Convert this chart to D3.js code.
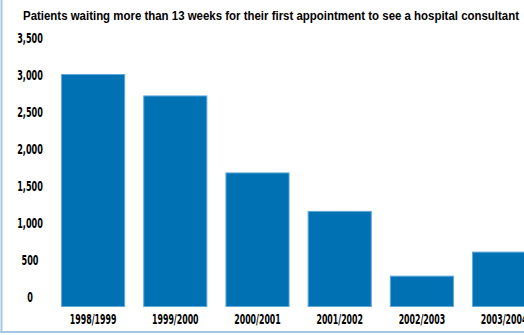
<!DOCTYPE html>
<html>
<head>
<meta charset="utf-8">
<script src="https://cdn.jsdelivr.net/npm/d3@7"></script>
<style>
  html, body { margin: 0; padding: 0; background: #fff; }
  svg { display: block; }
</style>
</head>
<body>
<svg id="chart" width="524" height="335"></svg>
<script>
const title = "Patients waiting more than 13 weeks for their first appointment to see a hospital consultant";
const categories = ["1998/1999", "1999/2000", "2000/2001", "2001/2002", "2002/2003", "2003/2004"];
const values = [3000, 2710, 1670, 1150, 275, 600];
const tickValues = [0, 500, 1000, 1500, 2000, 2500, 3000, 3500];

const svg = d3.select("#chart");
const W = 524, H = 335;
const plotBottom = 307;

// frame (left and bottom edges visible)
svg.append("line").attr("x1", 1.5).attr("x2", 1.5).attr("y1", 0).attr("y2", 332)
  .attr("stroke", "#a8c6e6").attr("stroke-width", 2);
svg.append("line").attr("x1", 0).attr("x2", W).attr("y1", 332).attr("y2", 332)
  .attr("stroke", "#a8c6e6").attr("stroke-width", 2);

// title
svg.append("text")
  .attr("x", 23).attr("y", 20)
  .attr("font-family", "'Liberation Sans', Arial, sans-serif")
  .attr("font-weight", "bold")
  .attr("font-size", 13.5)
  .attr("textLength", 496)
  .attr("lengthAdjust", "spacingAndGlyphs")
  .attr("fill", "#000")
  .text(title);

const x = d3.scaleBand()
  .domain(categories)
  .range([52, 545.2])
  .paddingInner(0.22)
  .paddingOuter(0.11);

const y = d3.scaleLinear()
  .domain([0, 3500])
  .range([296, 37]);

// bars
svg.append("g").selectAll("rect")
  .data(values)
  .join("rect")
  .attr("x", (d, i) => x(categories[i]) + 0.5)
  .attr("y", d => y(d) + 0.5)
  .attr("width", x.bandwidth() - 1)
  .attr("height", d => plotBottom - y(d) - 1)
  .attr("fill", "#0072b3")
  .attr("stroke", "#5fa8dc")
  .attr("stroke-width", 1);

const fontCond = "'DejaVu Sans', 'Liberation Sans', sans-serif";

function condense(sel, factor) {
  sel.each(function () {
    const len = this.getComputedTextLength();
    d3.select(this).attr("textLength", len * factor).attr("lengthAdjust", "spacingAndGlyphs");
  });
}

// y axis
const yAxis = d3.axisLeft(y)
  .tickValues(tickValues)
  .tickSize(0)
  .tickPadding(0)
  .tickFormat(d3.format(","));
const gy = svg.append("g").attr("transform", "translate(30,0)").call(yAxis);
gy.select(".domain").remove();
gy.selectAll("text")
  .attr("text-anchor", "middle")
  .attr("x", 0)
  .attr("font-family", fontCond)
  .attr("font-weight", "bold")
  .attr("font-size", 14)
  .attr("fill", "#000")
  .attr("dy", "0.36em")
  .call(condense, 0.58);

// x axis
const xAxis = d3.axisBottom(x).tickSize(0).tickPadding(0);
const gx = svg.append("g").attr("transform", "translate(0," + plotBottom + ")").call(xAxis);
gx.select(".domain").remove();
gx.selectAll("text")
  .attr("font-family", fontCond)
  .attr("font-weight", "bold")
  .attr("font-size", 14)
  .attr("fill", "#000")
  .attr("y", 7)
  .attr("dy", "0.71em")
  .call(condense, 0.56);
</script>
</body>
</html>
